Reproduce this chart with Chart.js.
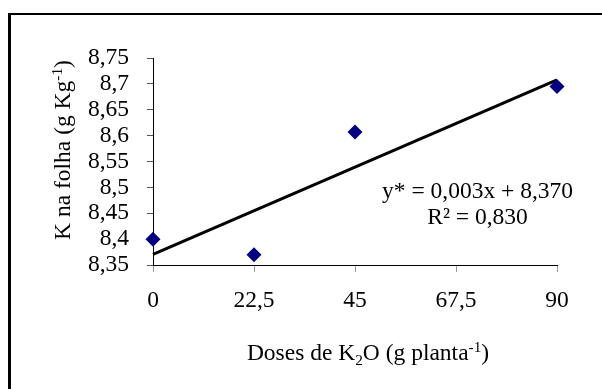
<!DOCTYPE html>
<html>
<head>
<meta charset="utf-8">
<script src="https://cdn.jsdelivr.net/npm/chart.js@4.4.1/dist/chart.umd.min.js"></script>
<style>
  html, body { margin: 0; padding: 0; background: #fff; overflow: hidden; }
  .frame {
    position: absolute;
    left: 8px;
    top: 13px;
    width: 700px;
    height: 500px;
    border-top: 2px solid #000;
    border-left: 3px solid #000;
  }
  .wrap { position: absolute; left: 0; top: 0; width: 602px; height: 389px; }
</style>
</head>
<body>
<div class="frame"></div>
<div class="wrap"><canvas id="kChart" width="602" height="389"></canvas></div>
<script>
// K2O doses and leaf K
const doses = [0, 22.5, 45, 90];
const kFolha = [8.40, 8.37, 8.607, 8.695];

const xTicks = [0, 22.5, 45, 67.5, 90];
const yTicks = [8.35, 8.4, 8.45, 8.5, 8.55, 8.6, 8.65, 8.7, 8.75];

const eqLines = ['y* = 0,003x + 8,370', 'R² = 0,830'];

const FONT = 'Liberation Serif, "Times New Roman", serif';
const FSIZE = 23.5;

// least squares fit of the points
function linFit(xs, ys) {
  const n = xs.length;
  const mx = xs.reduce((a, b) => a + b, 0) / n;
  const my = ys.reduce((a, b) => a + b, 0) / n;
  let sxy = 0, sxx = 0;
  for (let i = 0; i < n; i++) {
    sxy += (xs[i] - mx) * (ys[i] - my);
    sxx += (xs[i] - mx) * (xs[i] - mx);
  }
  const b = sxy / sxx;
  return { a: my - b * mx, b: b };
}
const fit = linFit(doses, kFolha);
const xMin = xTicks[0], xMax = xTicks[xTicks.length - 1];
const trend = [
  { x: xMin, y: fit.a + fit.b * xMin },
  { x: xMax, y: fit.a + fit.b * xMax }
];

const comma = v => String(Number(v.toFixed(2))).replace('.', ',');

// draws a line of text with sub/superscript pieces
function drawRich(ctx, parts, cx, cy, size) {
  const small = size * 0.65;
  let total = 0;
  parts.forEach(p => {
    ctx.font = (p.sub || p.sup ? small : size) + 'px ' + FONT;
    p.w = ctx.measureText(p.t).width;
    total += p.w;
  });
  let x = cx - total / 2;
  ctx.textAlign = 'left';
  ctx.textBaseline = 'alphabetic';
  parts.forEach(p => {
    ctx.font = (p.sub || p.sup ? small : size) + 'px ' + FONT;
    let dy = 0;
    if (p.sub) dy = size * 0.22;
    if (p.sup) dy = -size * 0.33;
    ctx.fillText(p.t, x, cy + dy);
    x += p.w;
  });
}

const extraText = {
  id: 'extraText',
  afterDraw(chart) {
    const ctx = chart.ctx;
    const xs = chart.scales.x;
    ctx.save();
    ctx.fillStyle = '#000';

    // regression equation
    ctx.font = FSIZE + 'px ' + FONT;
    ctx.textAlign = 'center';
    ctx.textBaseline = 'alphabetic';
    const ex = xs.getPixelForValue(72.3);
    ctx.fillText(eqLines[0], ex, 198);
    ctx.fillText(eqLines[1], ex, 224);

    // x title
    drawRich(ctx, [
      { t: 'Doses de K' }, { t: '2', sub: true }, { t: 'O (g planta' },
      { t: '-1', sup: true }, { t: ')' }
    ], 368, 360, FSIZE);

    // y title, rotated
    ctx.translate(70, 150);
    ctx.rotate(-Math.PI / 2);
    drawRich(ctx, [
      { t: 'K na folha (g Kg' }, { t: '-1', sup: true }, { t: ')' }
    ], 0, 0, FSIZE);
    ctx.restore();
  }
};

const ctx = document.getElementById('kChart').getContext('2d');

const kChart = new Chart(ctx, {
  type: 'scatter',
  data: {
    datasets: [
      {
        data: doses.map((d, i) => ({ x: d, y: kFolha[i] })),
        pointStyle: 'rectRot',
        pointRadius: 7.5,
        pointHoverRadius: 7.5,
        backgroundColor: '#000080',
        borderColor: '#000080',
        borderWidth: 0,
        clip: false,
        order: 0
      },
      {
        data: trend,
        showLine: true,
        borderColor: '#000',
        borderWidth: 3,
        pointRadius: 0,
        fill: false,
        clip: false,
        order: 1
      }
    ]
  },
  options: {
    responsive: false,
    animation: false,
    events: [],
    layout: { padding: { left: 0, top: 58, right: 45, bottom: 0 } },
    plugins: {
      legend: { display: false },
      tooltip: { enabled: false }
    },
    scales: {
      x: {
        type: 'linear',
        min: xMin,
        max: xMax,
        afterBuildTicks: s => { s.ticks = xTicks.map(v => ({ value: v })); },
        afterFit: s => { s.height = 124; },
        border: { color: '#000', width: 1 },
        grid: { drawOnChartArea: false, tickLength: 7, tickColor: '#999' },
        ticks: {
          color: '#000',
          padding: 15,
          maxRotation: 0,
          autoSkip: false,
          font: { family: FONT, size: FSIZE },
          callback: v => comma(v)
        }
      },
      y: {
        min: yTicks[0],
        max: yTicks[yTicks.length - 1],
        afterBuildTicks: s => { s.ticks = yTicks.map(v => ({ value: v })); },
        afterFit: s => { s.width = 153; },
        border: { color: '#000', width: 1 },
        grid: { drawOnChartArea: false, tickLength: 6, tickColor: '#555' },
        ticks: {
          color: '#000',
          padding: 18,
          autoSkip: false,
          font: { family: FONT, size: FSIZE },
          callback: v => comma(v)
        }
      }
    }
  },
  plugins: [extraText]
});
</script>
</body>
</html>
